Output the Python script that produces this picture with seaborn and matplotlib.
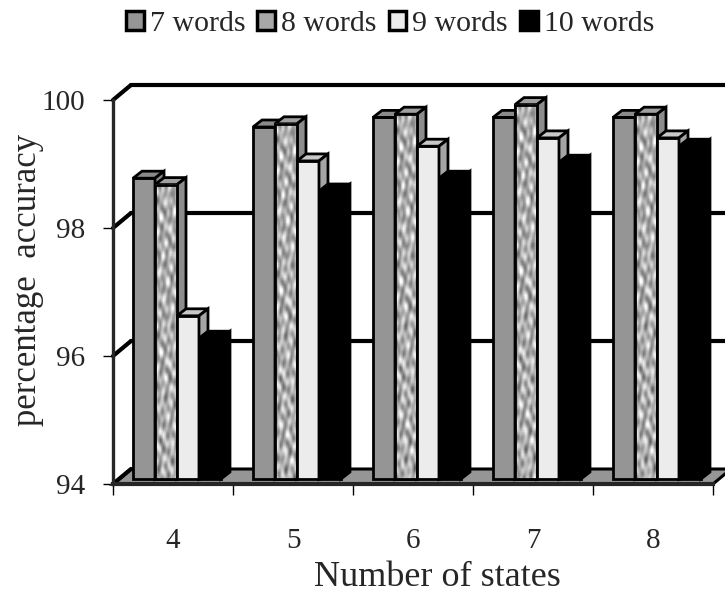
import numpy as np
import pandas as pd
import seaborn as sns
import matplotlib
matplotlib.use("Agg")
import matplotlib.pyplot as plt
from matplotlib.patches import Polygon, Rectangle, Patch
from matplotlib.transforms import Affine2D, IdentityTransform

states = ["4", "5", "6", "7", "8"]
series_names = ["7 words", "8 words", "9 words", "10 words"]
words_7 = [98.7, 99.5, 99.65, 99.65, 99.65]
words_8 = [98.6, 99.55, 99.7, 99.85, 99.7]
words_9 = [96.55, 98.97, 99.2, 99.33, 99.33]
words_10 = [96.2, 98.5, 98.7, 98.95, 99.2]
y_ticks = [94, 96, 98, 100]

front_colors = ["#959595", "#a8a8a8", "#ececec", "#000000"]
top_colors = ["#8a8a8a", "#a0a0a0", "#c8c8c8", "#000000"]
side_colors = ["#8a8a8a", "#8c8c8c", "#a5a5a5", "#000000"]

df = pd.DataFrame({
    "states": states * 4,
    "series": np.repeat(series_names, len(states)),
    "accuracy": words_7 + words_8 + words_9 + words_10,
})

sns.set_style("white")
plt.rcParams["font.family"] = ["Liberation Serif", "DejaVu Serif"]

W, H = 725, 594
fig = plt.figure(figsize=(W / 100, H / 100), dpi=100)
ax = fig.add_axes([113 / W, 1 - 484 / H, 600 / W, 384 / H])

sns.barplot(data=df, x="states", y="accuracy", hue="series", order=states,
            hue_order=series_names, palette=front_colors, width=0.733, gap=0,
            legend=False, ax=ax, saturation=1, errorbar=None)

ax.set_xlim(-0.5, 4.5)
ax.set_ylim(94, 100)
fig.canvas.draw()

wall = Affine2D().translate(18, 15)
bar_shift = Affine2D().translate(4, 5)
dx, dy = 9, 7
LW = 2.0

# back wall lines
for v in y_ticks[1:]:
    ax.plot([-0.5, 4.6], [v, v], color="k", lw=3, clip_on=False, zorder=1,
            transform=ax.transData + wall)

# connectors and floor
p0 = ax.transData.transform((-0.5, 94))
p1 = ax.transData.transform((4.5, 94))
floor = [p0, p1, p1 + (18, 15), p0 + (18, 15)]
ax.add_patch(Polygon(floor, closed=True, facecolor="#969696", edgecolor="k", lw=2.2,
                     transform=IdentityTransform(), clip_on=False, zorder=1.5))
for v in y_ticks:
    a = ax.transData.transform((-0.5, v))
    ax.plot([a[0], a[0] + 18], [a[1], a[1] + 15], color="k", lw=3,
            transform=IdentityTransform(), clip_on=False, zorder=1.6)

# mottled texture for the 8 words bars (sum of sines, decoration only)
yy, xx = np.mgrid[0:150, 0:14]
tex = np.zeros(xx.shape, dtype=float)
for fx, fy, ph in [(0.9, 0.37, 0.0), (0.5, -0.61, 1.3), (1.3, 0.23, 2.0), (-0.7, 0.83, 0.4),
                   (1.1, -0.97, 3.1), (0.3, 1.21, 4.2), (1.7, 0.71, 5.3), (-1.4, 0.47, 0.9)]:
    tex += np.sin(xx * fx + yy * fy + ph)
tex = (tex - tex.min()) / (tex.max() - tex.min())

for i, cont in enumerate(ax.containers):
    for bar in cont:
        z = 3 + i * 0.1
        top = bar.get_height()
        bar.set_y(94)
        bar.set_height(top - 94)
        bar.set_transform(ax.transData + bar_shift)
        bar.set_edgecolor("k")
        bar.set_linewidth(LW)
        bar.set_clip_on(False)
        bar.set_zorder(z)
        x0, w = bar.get_x(), bar.get_width()
        tl = ax.transData.transform((x0, top)) + (4, 5)
        tr = ax.transData.transform((x0 + w, top)) + (4, 5)
        br = ax.transData.transform((x0 + w, 94)) + (4, 5)
        ax.add_patch(Polygon([tl, tr, tr + (dx, dy), tl + (dx, dy)], closed=True,
                             facecolor=top_colors[i], edgecolor="k", lw=LW,
                             transform=IdentityTransform(), clip_on=False, zorder=z))
        ax.add_patch(Polygon([tr, br, br + (dx, dy), tr + (dx, dy)], closed=True,
                             facecolor=side_colors[i], edgecolor="k", lw=LW,
                             transform=IdentityTransform(), clip_on=False, zorder=z))
        if i == 1:
            frac = min(1.0, (top - 94) / 6.0)
            im = ax.imshow(tex[:max(2, int(150 * frac))], cmap="gray", vmin=-0.45, vmax=0.85,
                           extent=(x0, x0 + w, 94, top), aspect="auto", interpolation="bilinear",
                           transform=ax.transData + bar_shift, zorder=z + 0.01, clip_on=False)
            ax.add_patch(Rectangle((x0, 94), w, top - 94, facecolor="none", edgecolor="k", lw=LW,
                                   transform=ax.transData + bar_shift, clip_on=False, zorder=z + 0.02))

ax.set_xlim(-0.5, 4.5)
ax.set_ylim(94, 100)

sns.despine(ax=ax, top=True, right=True)
ax.spines["left"].set_linewidth(2.4)
ax.spines["bottom"].set_linewidth(3)
ax.spines["left"].set_zorder(2)
ax.spines["bottom"].set_zorder(2)

ax.set_yticks(y_ticks)
ax.set_xticks(range(len(states)))
ax.set_xticks(np.arange(-0.5, 5.0, 1), minor=True)
ax.tick_params(axis="x", which="major", length=0, labelsize=21, pad=32)
ax.tick_params(axis="x", which="minor", length=8, width=1, color="k", bottom=True)
ax.tick_params(axis="y", which="major", length=7, width=1, color="k", left=True,
               labelsize=21, pad=13)
ax.set_xlabel("Number of states", fontsize=26, va="center")
ax.xaxis.set_label_coords((437 - 113) / 600, (484 - 578) / 384)
ax.set_ylabel("percentage  accuracy", fontsize=25, va="center")
ax.yaxis.set_label_coords((28 - 113) / 600, (484 - 280) / 384)

handles = [Patch(facecolor=c, edgecolor="k", lw=2.5, label=n)
           for c, n in zip(front_colors, series_names)]
fig.legend(handles=handles, loc="upper center", bbox_to_anchor=(390 / W, 1 + 10 / H), ncols=4,
           frameon=False, fontsize=21.5, handlelength=0.6, handleheight=0.6,
           handletextpad=0.2, columnspacing=0.4, borderpad=0.2)

fig.savefig("out.png", dpi=100)
